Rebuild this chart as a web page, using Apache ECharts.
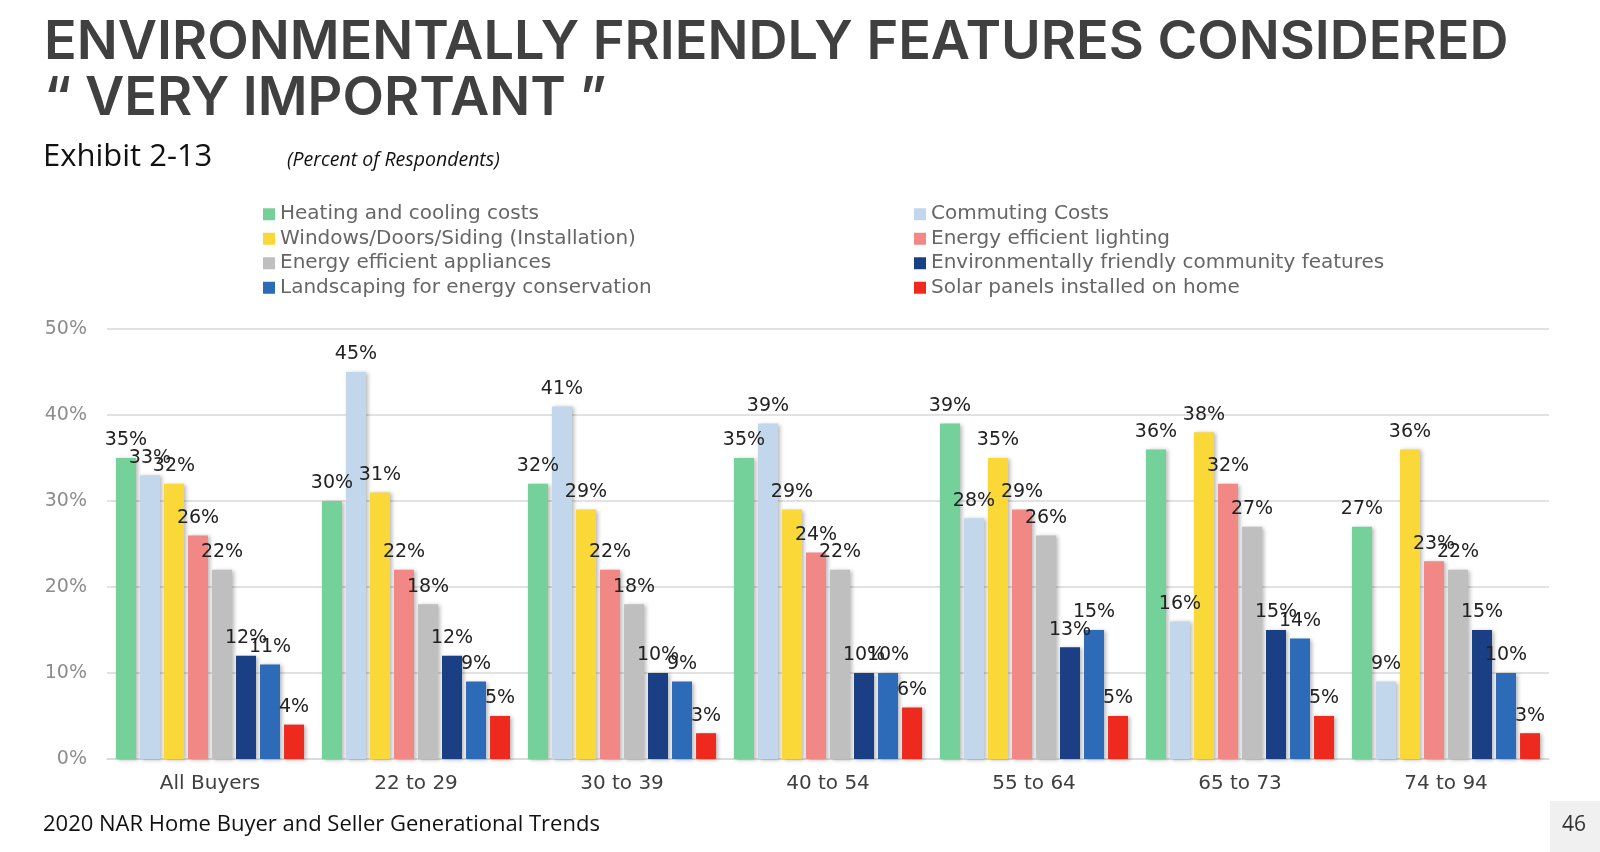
<!DOCTYPE html>
<html>
<head>
<meta charset="utf-8">
<script src="https://cdn.jsdelivr.net/npm/echarts@6/dist/echarts.min.js"></script>
<style>
html,body{margin:0;padding:0;background:#fff;}
#chart{width:1600px;height:852px;}
</style>
</head>
<body>
<div id="chart"></div>
<script>
const categories = ['All Buyers', '22 to 29', '30 to 39', '40 to 54', '55 to 64', '65 to 73', '74 to 94'];
const seriesNames = [
  'Heating and cooling costs',
  'Commuting Costs',
  'Windows/Doors/Siding (Installation)',
  'Energy efficient lighting',
  'Energy efficient appliances',
  'Environmentally friendly community features',
  'Landscaping for energy conservation',
  'Solar panels installed on home'
];
const heating      = [35, 30, 32, 35, 39, 36, 27];
const commuting    = [33, 45, 41, 39, 28, 16, 9];
const windows      = [32, 31, 29, 29, 35, 38, 36];
const lighting     = [26, 22, 22, 24, 29, 32, 23];
const appliances   = [22, 18, 18, 22, 26, 27, 22];
const community    = [12, 12, 10, 10, 13, 15, 15];
const landscaping  = [11, 9, 9, 10, 15, 14, 10];
const solar        = [4, 5, 3, 6, 5, 5, 3];
const yTicks = [0, 10, 20, 30, 40, 50];

const values = [heating, commuting, windows, lighting, appliances, community, landscaping, solar];
const colors = ['#75D19A', '#C3D7EC', '#F9D838', '#F28885', '#BFBFBF', '#1B3F84', '#2D6AB8', '#EE2A1F'];
const FONT = '"DejaVu Sans", sans-serif';

const chart = echarts.init(document.getElementById('chart'));
const series = seriesNames.map((name, i) => ({
  name: name,
  type: 'bar',
  data: values[i],
  barGap: '20%',
  barCategoryGap: '8.7%',
  itemStyle: {
    color: colors[i],
    shadowColor: 'rgba(0,0,0,0.28)',
    shadowBlur: 4,
    shadowOffsetX: 2,
    shadowOffsetY: 1
  },
  label: {
    show: true,
    position: 'top',
    distance: 8,
    formatter: '{c}%',
    fontFamily: FONT,
    fontSize: 19,
    color: '#222'
  }
}));

chart.setOption({
  animation: false,
  backgroundColor: '#fff',
  graphic: [
    { type: 'text', left: 44, top: 16, style: { text: 'ENVIRONMENTALLY FRIENDLY FEATURES CONSIDERED', font: '600 54px Inter, sans-serif', fill: '#404040' } },
    { type: 'text', left: 44, top: 72, style: { text: '\u201C VERY IMPORTANT \u201D', font: '600 54px Inter, sans-serif', fill: '#404040' } },
    { type: 'text', left: 43, top: 142, style: { text: 'Exhibit 2-13', font: '31px "Open Sans", sans-serif', fill: '#111' } },
    { type: 'text', left: 287, top: 150, style: { text: '(Percent of Respondents)', font: 'italic 19.5px "Open Sans", sans-serif', fill: '#111' } },
    { type: 'text', left: 43, top: 814, style: { text: '2020 NAR Home Buyer and Seller Generational Trends', font: '22px "Open Sans", sans-serif', fill: '#111' } },
    { type: 'rect', shape: { x: 1550, y: 801, width: 50, height: 51 }, style: { fill: '#f0f0f0' } },
    { type: 'text', left: 1562, top: 815, style: { text: '46', font: '21px "Open Sans", sans-serif', fill: '#333' } }
  ],
  legend: [
    {
      data: [seriesNames[0], seriesNames[2], seriesNames[4], seriesNames[6]],
      orient: 'vertical', left: 258, top: 199,
      itemWidth: 12, itemHeight: 12, itemGap: 4,
      icon: 'rect',
      textStyle: { fontFamily: FONT, fontSize: 20, color: '#666', lineHeight: 20.5 }
    },
    {
      data: [seriesNames[1], seriesNames[3], seriesNames[5], seriesNames[7]],
      orient: 'vertical', left: 909, top: 199,
      itemWidth: 12, itemHeight: 12, itemGap: 4,
      icon: 'rect',
      textStyle: { fontFamily: FONT, fontSize: 20, color: '#666', lineHeight: 20.5 }
    }
  ],
  grid: { left: 107, right: 51, top: 329, bottom: 93, containLabel: false },
  xAxis: {
    type: 'category',
    data: categories,
    axisLine: { show: true, lineStyle: { color: '#d9d9d9', width: 1.5 } },
    axisTick: { show: false },
    axisLabel: { fontFamily: FONT, fontSize: 20, color: '#404040', margin: 15 }
  },
  yAxis: {
    type: 'value',
    min: yTicks[0], max: yTicks[yTicks.length - 1], interval: 10,
    axisLine: { show: false },
    axisTick: { show: false },
    splitLine: { lineStyle: { color: '#d9d9d9', width: 1.5 } },
    axisLabel: { fontFamily: FONT, fontSize: 19, color: '#8c8c8c', margin: 20, formatter: '{value}%' }
  },
  series: series
});
</script>
</body>
</html>
